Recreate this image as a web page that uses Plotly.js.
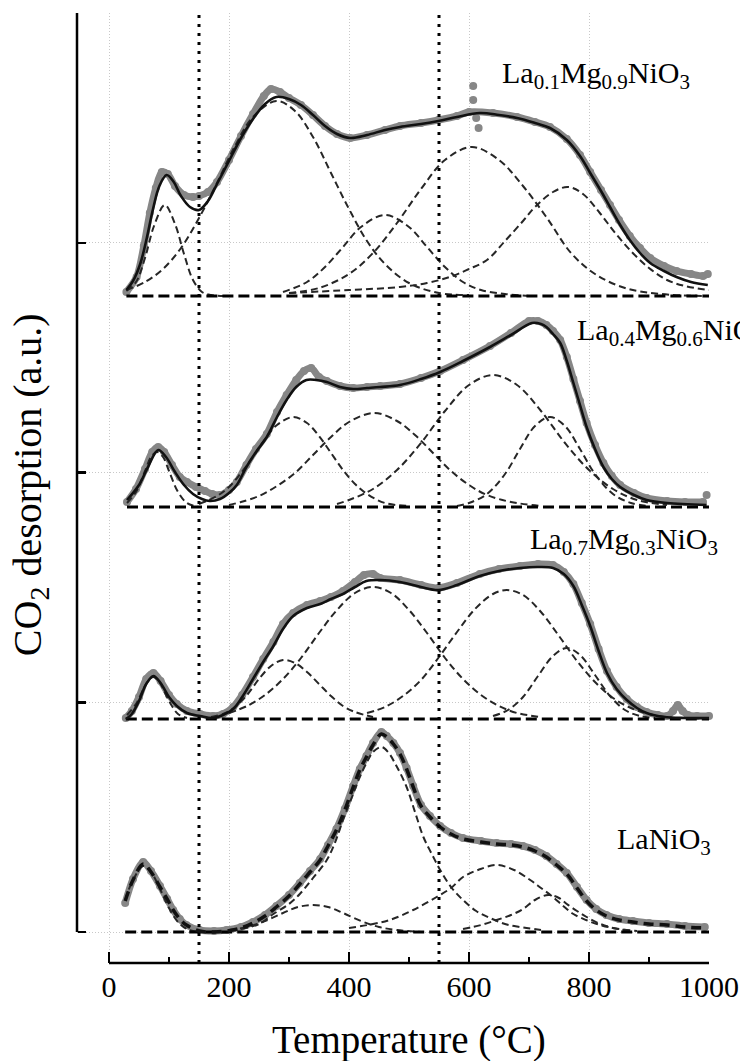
<!DOCTYPE html>
<html><head><meta charset="utf-8">
<script src="https://cdn.plot.ly/plotly-3.0.1.min.js"></script>
<style>html,body{margin:0;padding:0;background:#fff;}</style>
</head><body><div id="chart" style="width:740px;height:1061px;"></div>
<script>
// ---- data (temperature in °C, intensity in a.u.) ----
const sampleLabels = ['La<sub>0.1</sub>Mg<sub>0.9</sub>NiO<sub>3</sub>','La<sub>0.4</sub>Mg<sub>0.6</sub>NiO<sub>3</sub>','La<sub>0.7</sub>Mg<sub>0.3</sub>NiO<sub>3</sub>','LaNiO<sub>3</sub>'];
const offsets = [636, 425, 213, 0];
const xTicks = [0,200,400,600,800,1000];
const xMinorTicks = [100,300,500,700,900];
const yTicks = [0,229.75,459.5,689.25,919];
const refLines = [150, 550];

// La0.1Mg0.9NiO3
const s1RawT = [29,46,58,68,78,88,98,110,125,140,150,165,180,200,220,240,258,270,285,300,320,340,360,380,402,430,460,485,520,549,580,600,640,680,710,735,763,785,802,820,835,850,868,885,902,925,946,970,990,998];
const s1RawI = [4,19,50,83,108,124,122,110,101,99,100,104,114,136,160,182,200,207,204,198,191,181,170,162,158,161,166,170,173,176,180,184,183,179,174,169,157,141,124,106,91,76,60,48,38,30,25,22,20,22];
const s1SpikeT = [607,607,612,616];
const s1SpikeI = [210,196,178,168];
const s1FitT = [29,40,52,63,73,84,96,108,120,135,150,165,180,200,220,240,260,279,300,320,340,360,380,402,430,460,485,520,549,580,618,650,680,710,735,763,785,802,820,835,850,868,885,902,925,946,970,998];
const s1FitI = [6,15,32,58,86,110,121,114,100,89,86,95,112,135,158,177,192,199,197,191,181,170,162,158,161,166,169,172,175,179,183,181,178,173,168,156,140,123,105,89,73,56,43,33,25,19,14,11];
const s1C1T = [29,45,60,75,93,110,125,140,155,170,190];
const s1C1I = [5,14,38,70,91,72,42,16,4,1,0];
const s1C2T = [29,60,90,120,150,180,210,240,279,310,340,370,400,430,460,500,550,600];
const s1C2I = [6,14,27,48,78,113,150,179,195,185,159,123,87,55,32,13,3,1];
const s1C3T = [290,330,360,390,420,460,500,530,560,590,620,660,700];
const s1C3I = [4,14,29,49,69,81,69,49,29,14,6,2,0];
const s1C4T = [300,350,400,440,480,520,560,605,650,690,730,770,810,860,920,1000];
const s1C4I = [3,8,22,43,73,107,136,149,136,110,78,43,22,8,2,0];
const s1C5T = [300,400,485,530,568,600,630,660,690,710,740,765,790,818,845,873,900,930,960,1000];
const s1C5I = [3,6,9,13,19,27,36,55,75,89,104,109,102,83,62,43,28,16,10,6];

// La0.4Mg0.6NiO3
const s2RawT = [30,45,60,72,82,92,105,118,130,145,160,172,185,200,213,229,245,263,280,296,312,325,337,350,363,385,407,430,452,485,520,552,590,635,670,700,715,729,740,752,763,774,785,796,810,824,838,852,875,896,930,960,990];
const s2RawI = [5,18,38,55,60,55,42,30,25,20,16,13,12,17,25,42,58,73,95,112,127,136,139,130,126,121,119,120,121,123,129,136,147,161,174,186,186,182,176,167,150,128,106,84,62,44,31,22,14,9,6,5,5];
const s2SpikeT = [996];
const s2SpikeI = [12];
const s2FitT = [30,50,65,82,95,110,125,140,155,168,185,200,213,229,245,263,280,296,312,329,345,363,385,407,430,452,485,520,552,590,635,670,705,720,729,740,752,763,774,785,796,810,824,838,852,875,896,930,996];
const s2FitI = [7,22,40,57,50,35,22,13,8,6,8,14,22,40,55,70,90,107,120,127,127,125,120,118,119,120,122,128,135,146,160,172,184,183,180,173,164,146,124,102,80,58,40,28,20,12,7,4,2];
const s2C1T = [30,45,60,70,80,90,100,115,130,150];
const s2C1I = [4,15,36,50,55,50,36,15,4,0];
const s2C2T = [150,180,200,220,240,260,280,307,330,350,370,390,410,430,460,500];
const s2C2I = [3,11,20,34,50,68,82,90,84,71,54,37,23,13,4,1];
const s2C3T = [200,220,250,280,310,340,370,400,442,480,510,540,570,600,630,670,720];
const s2C3I = [2,5,11,21,34,52,70,85,94,86,72,54,36,22,12,5,1];
const s2C4T = [380,400,440,480,520,560,600,640,680,720,760,800,840,880,930];
const s2C4I = [3,7,18,37,64,96,122,132,122,96,64,37,18,7,2];
const s2C5T = [580,600,630,660,685,710,735,760,785,810,840,870,900];
const s2C5I = [1,4,13,33,58,81,90,81,58,33,13,4,1];

// La0.7Mg0.3NiO3
const s3RawT = [28,38,50,62,74,86,100,113,130,152,173,190,207,222,240,257,274,290,307,330,352,370,390,410,425,440,452,485,520,549,580,618,650,685,715,740,758,774,788,802,816,830,846,863,880,896,915,930,940,948,956,965,980,1000];
const s3RawI = [1,8,22,40,46,38,24,15,8,5,3,5,12,24,42,60,77,95,106,114,118,122,128,137,144,145,141,139,134,131,136,145,150,153,155,154,147,135,116,95,70,48,32,20,12,7,4,3,8,14,8,4,3,3];
const s3FitT = [28,38,50,62,74,86,100,113,130,152,173,190,207,222,240,257,274,290,307,330,352,370,390,410,429,452,485,520,549,580,618,650,685,715,740,758,774,788,802,816,830,846,863,880,896,925,960,1000];
const s3FitI = [0,5,18,35,43,36,22,13,6,3,1,4,10,22,40,57,73,90,103,111,115,120,125,132,138,139,137,132,129,134,143,148,151,152,151,145,133,114,93,68,46,30,19,11,6,2,1,1];
const s3C1T = [30,45,55,65,74,85,95,105,115,130];
const s3C1I = [4,15,27,38,42,36,24,13,5,1];
const s3C2T = [170,190,210,230,250,270,290,310,330,350,370,390,410,440];
const s3C2I = [2,5,12,24,40,53,59,56,47,35,23,13,7,2];
const s3C3T = [200,230,260,290,320,350,380,410,440,470,500,530,560,590,620,650,680,720];
const s3C3I = [6,13,24,40,61,86,109,126,132,126,109,86,61,40,24,13,6,2];
const s3C4T = [430,460,490,520,550,580,610,640,663,690,720,750,780,810,840,870,900,940];
const s3C4I = [6,12,23,39,62,87,110,125,129,124,107,83,58,37,21,11,5,1];
const s3C5T = [640,665,690,715,740,763,785,810,835,860,885,910];
const s3C5I = [3,9,22,43,63,71,64,44,23,9,3,1];

// LaNiO3
const s4RawT = [27,40,57,70,85,97,107,118,129,151,175,196,220,240,260,279,300,318,335,352,365,379,393,407,418,429,440,454,463,474,485,496,507,520,535,552,570,590,620,646,670,690,710,729,746,763,780,796,812,829,850,873,900,930,960,993];
const s4RawI = [29,53,70,61,46,33,22,13,7,2,1,2,5,10,17,26,37,49,61,73,87,103,123,146,163,176,189,200,196,189,179,164,146,127,116,106,99,94,91,89,88,86,82,76,68,59,45,32,23,17,13,11,9,8,6,5];
const s4FitT = [27,40,57,70,85,97,107,118,129,151,175,196,220,240,260,279,300,318,335,352,365,379,393,407,418,429,440,454,463,474,485,496,507,520,535,552,570,590,620,646,670,690,710,729,746,763,780,796,812,829,850,873,900,930,960,993];
const s4FitI = [31,52,68,60,45,33,22,13,7,1,0,1,4,9,16,25,36,48,60,72,86,102,122,145,162,175,187,198,195,188,178,163,145,126,115,105,98,93,90,88,87,85,81,75,67,58,44,31,22,16,12,10,8,7,5,4];
const s4C1T = [27,40,57,70,85,100,115,130,150];
const s4C1I = [32,52,66,60,43,24,10,3,0];
const s4C2T = [200,230,260,290,315,340,365,390,420,450,480,520];
const s4C2I = [2,5,11,19,25,27,25,19,11,5,2,0];
const s4C3T = [220,250,274,300,318,340,363,377,390,405,418,430,440,454,465,480,496,510,524,538,552,570,590,612,635,660,685,720];
const s4C3I = [3,8,18,28,38,54,72,90,112,135,155,170,180,185,180,165,145,120,95,78,62,45,32,21,14,8,5,2];
const s4C4T = [400,440,468,507,546,570,590,615,646,675,702,720,740,757,774,795,813,840,880];
const s4C4I = [4,8,12,22,35,44,55,62,67,62,52,44,35,26,18,12,8,4,1];
const s4C5T = [590,620,646,670,690,710,732,750,763,780,796,815,840,870];
const s4C5I = [3,7,12,17,23,32,37,34,28,21,15,9,4,1];

const baseStartT = [29, 30, 28, 27];

// ---- build traces ----
const samples = [
  {raw:[s1RawT,s1RawI], spikes:[s1SpikeT,s1SpikeI], fit:[s1FitT,s1FitI], comps:[[s1C1T,s1C1I],[s1C2T,s1C2I],[s1C3T,s1C3I],[s1C4T,s1C4I],[s1C5T,s1C5I]]},
  {raw:[s2RawT,s2RawI], spikes:[s2SpikeT,s2SpikeI], fit:[s2FitT,s2FitI], comps:[[s2C1T,s2C1I],[s2C2T,s2C2I],[s2C3T,s2C3I],[s2C4T,s2C4I],[s2C5T,s2C5I]]},
  {raw:[s3RawT,s3RawI], spikes:null, fit:[s3FitT,s3FitI], comps:[[s3C1T,s3C1I],[s3C2T,s3C2I],[s3C3T,s3C3I],[s3C4T,s3C4I],[s3C5T,s3C5I]]},
  {raw:[s4RawT,s4RawI], spikes:null, fit:[s4FitT,s4FitI], comps:[[s4C1T,s4C1I],[s4C2T,s4C2I],[s4C3T,s4C3I],[s4C4T,s4C4I],[s4C5T,s4C5I]]}
];
const GRAY = '#878787';
const traces = [];
samples.forEach((s, k) => {
  const off = offsets[k];
  const sh = (arr) => arr.map(v => v + off);
  traces.push({x:s.raw[0], y:sh(s.raw[1]), mode:'lines+markers', line:{color:GRAY, width:7, shape:'spline', smoothing:0.8}, marker:{color:GRAY, size:8}, cliponaxis:false});
  if (s.spikes) traces.push({x:s.spikes[0], y:sh(s.spikes[1]), mode:'markers', marker:{color:GRAY, size:8}, cliponaxis:false});
  s.comps.forEach(c => traces.push({x:c[0], y:sh(c[1]), mode:'lines', line:{color:'#262626', width:2, dash:'7px,4px', shape:'spline', smoothing:1}}));
  traces.push({x:[baseStartT[k], 1000], y:[off, off], mode:'lines', line:{color:'black', width:3.2, dash:'11px,5px'}});
  if (k < 3) {
    traces.push({x:s.fit[0], y:sh(s.fit[1]), mode:'lines', line:{color:'#111', width:2.6, shape:'spline', smoothing:1}});
  } else {
    traces.push({x:s.fit[0], y:sh(s.fit[1]), mode:'lines', line:{color:'#111', width:3.5, dash:'10px,6px', shape:'spline', smoothing:1}});
  }
});

const FONT = 'Liberation Serif, Times New Roman, serif';
const shapes = refLines.map(v => ({type:'line', xref:'x', yref:'paper', x0:v, x1:v, y0:0, y1:1, line:{color:'black', width:3, dash:'3px,6px'}}));
// x axis line from 0 to 1000, y axis line from first to last y tick
shapes.push({type:'line', xref:'x', yref:'paper', x0:0, x1:1000, y0:0, y1:0, line:{color:'black', width:2.5}});
shapes.push({type:'line', xref:'paper', yref:'y', x0:0, x1:0, y0:yTicks[0], y1:yTicks[yTicks.length-1], line:{color:'black', width:2.5}});

const labelPos = [[652, 857], [777, 600], [698, 391], [843, 91]];
const annotations = sampleLabels.map((t, k) => ({text:t, xref:'x', yref:'y', x:labelPos[k][0], y:labelPos[k][1], xanchor:'left', yanchor:'middle', showarrow:false, font:{family:FONT, size:30, color:'black'}}));
annotations.push({text:'CO<sub>2</sub> desorption (a.u.)', xref:'paper', yref:'paper', x:-0.0744, y:0.504, xanchor:'center', yanchor:'middle', textangle:-90, showarrow:false, font:{family:FONT, size:40, color:'black'}});
annotations.push({text:'Temperature (°C)', xref:'x', yref:'paper', x:500, y:-0.081, xanchor:'center', yanchor:'middle', showarrow:false, font:{family:FONT, size:39, color:'black'}});

const layout = {
  width:740, height:1061,
  margin:{l:77, r:31, t:13, b:98, pad:0},
  paper_bgcolor:'white', plot_bgcolor:'white',
  showlegend:false, hovermode:false,
  font:{family:FONT, color:'black'},
  xaxis:{range:[-53.333,1000], tickvals:xTicks, ticks:'inside', ticklen:11, tickwidth:2.5, tickcolor:'black',
    showline:false, zeroline:false, showgrid:true, gridcolor:'#c8c8c8', gridwidth:1, griddash:'1px,2px',
    tickfont:{family:FONT, size:30, color:'black'}, anchor:'free', position:0, ticklabelstandoff:3,
    minor:{tickvals:xMinorTicks, ticks:'inside', ticklen:6, tickwidth:2.5, tickcolor:'black', showgrid:false}},
  yaxis:{range:[-31,919], domain:[0,1], tickvals:yTicks, showticklabels:false,
    ticks:'inside', ticklen:8, tickwidth:2.5, tickcolor:'black', showline:false,
    zeroline:false, showgrid:true, gridcolor:'#c8c8c8', gridwidth:1, griddash:'1px,2px', anchor:'free', position:0},
  shapes:shapes, annotations:annotations
};
Plotly.newPlot('chart', traces, layout, {staticPlot:true, displayModeBar:false});
</script></body></html>
